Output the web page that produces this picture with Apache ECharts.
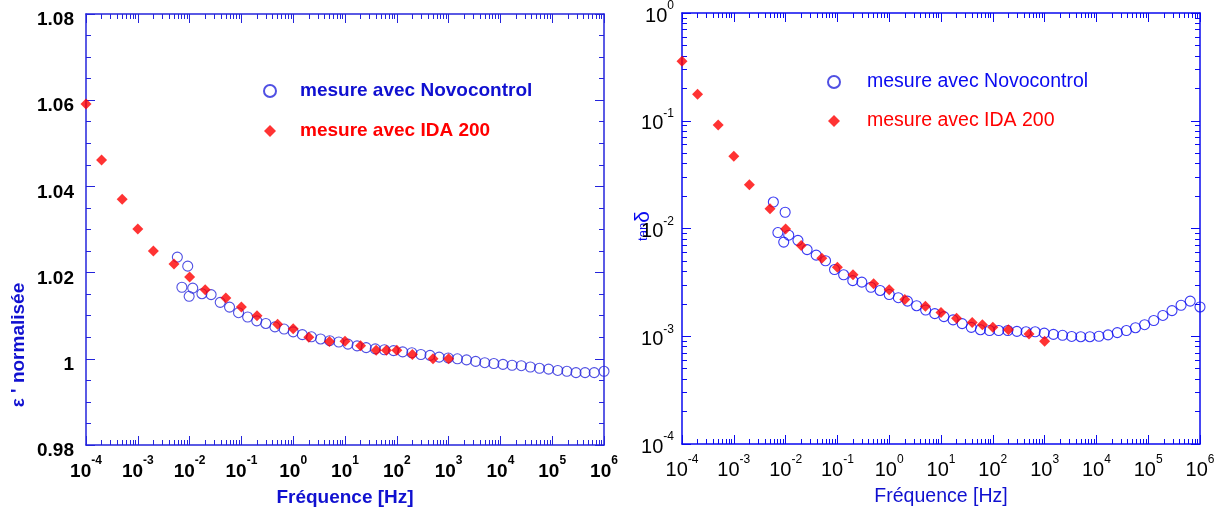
<!DOCTYPE html>
<html><head><meta charset="utf-8">
<script src="https://cdn.jsdelivr.net/npm/echarts@6/dist/echarts.min.js"></script>
<style>html,body{margin:0;padding:0;background:#fff}#c{width:1226px;height:512px}</style>
</head><body><div id="c"></div><script>
// ---- data ----
const idaFreq = [1e-4, 2e-4, 5e-4, 1e-3, 2e-3, 5e-3, 1e-2, 2e-2, 5e-2, 0.1, 0.2, 0.5, 1, 2, 5, 10, 20, 40, 63, 100, 200, 500, 1000];
const idaEps = [1.0591, 1.0461, 1.0370, 1.0301, 1.0250, 1.0220, 1.0190, 1.0160, 1.0141, 1.0120, 1.0100, 1.0080, 1.0070, 1.0050, 1.0040, 1.0041, 1.0030, 1.0020, 1.0020, 1.0020, 1.0010, 1.0000, 1.0000];
const idaTan = [0.357, 0.176, 0.0912, 0.0469, 0.0255, 0.01527, 0.00989, 0.00697, 0.0053, 0.00436, 0.00373, 0.00307, 0.00270, 0.00219, 0.00190, 0.00166, 0.00147, 0.00134, 0.00128, 0.00121, 0.00115, 0.00105, 0.000898];
const novoFreq = [0.0058, 0.0071, 0.0092, 0.0098, 0.0115,
  0.0173, 0.026, 0.039, 0.059, 0.088, 0.132, 0.198, 0.296, 0.444, 0.667,
  1, 1.5, 2.25, 3.38, 5.06, 7.59, 11.4, 17.1, 25.6, 38.4, 57.7, 86.5, 130, 195, 292, 438, 657, 985,
  1480, 2220, 3330, 4990, 7480, 11200, 16800, 25300, 37900, 56800, 85200,
  128000, 192000, 288000, 431000, 647000, 1000000];
const novoEps = [1.0236, 1.0166, 1.0215, 1.0145, 1.0164,
  1.0151, 1.0149, 1.0131, 1.0120, 1.0107, 1.0097, 1.0088, 1.0082, 1.0074, 1.0069,
  1.00625, 1.0056, 1.0051, 1.0046, 1.0042, 1.0039, 1.0034, 1.0030, 1.0026, 1.0023, 1.0021, 1.0019, 1.0016, 1.0014, 1.0010, 1.0008, 1.0004, 1.0002,
  1.0000, 0.99975, 0.9994, 0.9991, 0.9989, 0.9987, 0.9985, 0.9984, 0.9981, 0.9978, 0.9976,
  0.9973, 0.9971, 0.9968, 0.9968, 0.9968, 0.9971];
const novoTan = [0.0176, 0.00917, 0.00748, 0.01415, 0.00867,
  0.00776, 0.00637, 0.00566, 0.00502, 0.00416, 0.00372, 0.00328, 0.00318, 0.00285, 0.00266,
  0.00244, 0.00228, 0.00212, 0.00192, 0.00175, 0.00162, 0.00152, 0.00142, 0.00131, 0.00121, 0.00115, 0.00113, 0.00113, 0.00113, 0.00111, 0.0011, 0.0011, 0.00107,
  0.00104, 0.00102, 0.000996, 0.00099, 0.00099, 0.001, 0.00103, 0.00108, 0.00113, 0.0012,
  0.00128, 0.0014, 0.00156, 0.00173, 0.00194, 0.00212, 0.00187];
const seriesNames = ['mesure avec Novocontrol', 'mesure avec IDA 200'];
const xDecadeExponents = [-4, -3, -2, -1, 0, 1, 2, 3, 4, 5, 6];
const tanDecadeExponents = [-4, -3, -2, -1, 0];
const epsTickLabels = ['0.98', '1', '1.02', '1.04', '1.06', '1.08'];
const xTitle = 'Fréquence [Hz]';
const epsTitle = "ε ' normalisée";

// ---- styling ----
const FONT = '"Liberation Sans", Arial, sans-serif';
const BLUE_L = '#2424dc';
const BLUE_R = '#0a0af0';
const BLUE_TXT = '#1010d0';
const RED = '#ff0000';

function minorValues(exps) {
  const out = [];
  for (let i = 0; i < exps.length - 1; i++) {
    for (let m = 2; m <= 9; m++) out.push(Number((m * Math.pow(10, exps[i])).toPrecision(3)));
  }
  return out;
}
const xMinor = minorValues(xDecadeExponents);
const tanMinor = minorValues(tanDecadeExponents);

function supFmt(v) {
  const e = Math.round(Math.log10(v));
  return '{b|10}{s|' + e + '}';
}
function supRich(bold) {
  const w = bold ? 'bold' : 'normal';
  return {
    b: { fontSize: bold ? 19 : 20, fontWeight: w, fontFamily: FONT, color: '#000', lineHeight: 26, verticalAlign: 'bottom' },
    s: { fontSize: 12, fontWeight: w, fontFamily: FONT, color: '#000', lineHeight: 14, verticalAlign: 'top' }
  };
}

function logX(grid, pos, major, color, ext) {
  const ax = {
    type: 'log', gridIndex: grid, position: pos, min: ext[0], max: ext[1], splitNumber: 10,
    splitLine: { show: false },
    axisLine: { show: major, onZero: false, lineStyle: { color: color, width: 1.5 } },
    axisTick: { show: true, inside: true, length: major ? 9 : 5, lineStyle: { color: color, width: 1 } },
    axisLabel: { show: false }
  };
  if (!major) ax.axisTick.customValues = xMinor;
  return ax;
}

const xAxes = [];
const yAxes = [];
[['bottom', true], ['bottom', false], ['top', true], ['top', false]].forEach(function (p) {
  xAxes.push(logX(0, p[0], p[1], BLUE_L, [1e-4, 1e6]));
});
[['bottom', true], ['bottom', false], ['top', true], ['top', false]].forEach(function (p) {
  xAxes.push(logX(1, p[0], p[1], BLUE_R, [1e-4, 1e6]));
});
xAxes[0].axisLabel = { show: true, formatter: supFmt, rich: supRich(true), margin: 10 };
xAxes[0].name = xTitle; xAxes[0].nameLocation = 'middle'; xAxes[0].nameGap = 43;
xAxes[0].nameTextStyle = { fontFamily: FONT, fontSize: 19, fontWeight: 'bold', color: BLUE_TXT };
xAxes[4].axisLabel = { show: true, formatter: supFmt, rich: supRich(false), margin: 10 };
xAxes[4].name = xTitle; xAxes[4].nameLocation = 'middle'; xAxes[4].nameGap = 43;
xAxes[4].nameTextStyle = { fontFamily: FONT, fontSize: 19.5, color: BLUE_TXT };

['left', 'right'].forEach(function (pos, i) {
  yAxes.push({
    type: 'value', gridIndex: 0, position: pos, min: 0.98, max: 1.08, interval: 0.02,
    splitLine: { show: false },
    axisLine: { show: true, lineStyle: { color: BLUE_L, width: 1.5 } },
    axisTick: { show: true, inside: true, length: 9, lineStyle: { color: BLUE_L } },
    minorTick: { show: true, splitNumber: 4, length: 5, lineStyle: { color: BLUE_L } },
    axisLabel: i === 0 ? {
      show: true, margin: 12,
      formatter: function (v) { return '{v|' + epsTickLabels[Math.round((v - 0.98) / 0.02)] + '}'; },
      rich: { v: { fontFamily: FONT, fontSize: 19, fontWeight: 'bold', color: '#000', padding: [12, 0, 0, 0] } }
    } : { show: false }
  });
});
[['left', true], ['left', false], ['right', true], ['right', false]].forEach(function (p, i) {
  const ax = {
    type: 'log', gridIndex: 1, position: p[0], min: 1e-4, max: 1, splitNumber: 4,
    splitLine: { show: false },
    axisLine: { show: p[1], lineStyle: { color: BLUE_R, width: 1.5 } },
    axisTick: { show: true, inside: true, length: p[1] ? 9 : 5, lineStyle: { color: BLUE_R } },
    axisLabel: { show: false }
  };
  if (!p[1]) ax.axisTick.customValues = tanMinor;
  if (i === 0) ax.axisLabel = { show: true, formatter: supFmt, rich: supRich(false), margin: 8 };
  yAxes.push(ax);
});

const novoStyle = (c) => ({ color: 'rgba(255,255,255,0)', borderColor: c, borderWidth: 1.1 });
const option = {
  backgroundColor: '#fff',
  animation: false,
  grid: [
    { left: 86, top: 14, width: 518, height: 435 },
    { left: 682, top: 11, width: 518, height: 438 }
  ],
  xAxis: xAxes,
  yAxis: yAxes,
  legend: [
    {
      orient: 'vertical', left: 263, top: 81, padding: 0, itemWidth: 12, itemHeight: 12, itemGap: 20,
      data: [
        { name: seriesNames[0], textStyle: { color: BLUE_TXT } },
        { name: seriesNames[1], textStyle: { color: RED } }
      ],
      textStyle: { fontFamily: FONT, fontSize: 19, fontWeight: 'bold', lineHeight: 20, padding: [0, 0, 0, 19] }
    },
    {
      orient: 'vertical', left: 827, top: 72, padding: 0, itemWidth: 12, itemHeight: 12, itemGap: 19,
      data: [
        { name: seriesNames[0], textStyle: { color: BLUE_R } },
        { name: seriesNames[1], textStyle: { color: RED } }
      ],
      textStyle: { fontFamily: FONT, fontSize: 19.5, lineHeight: 20, padding: [0, 0, 0, 22] }
    }
  ],
  graphic: [
    { type: 'text', x: 19, y: 345, rotation: Math.PI / 2,
      style: { text: epsTitle, fill: BLUE_TXT, font: 'bold 19px ' + FONT, align: 'center', verticalAlign: 'middle' } },
    { type: 'text', x: 643, y: 226, rotation: Math.PI / 2,
      style: { text: '{a|tan}{b|δ}', align: 'center', verticalAlign: 'middle',
        rich: { a: { fontSize: 13, fontFamily: FONT, fill: BLUE_R }, b: { fontSize: 21, fontFamily: FONT, fill: BLUE_R } } } }
  ],
  series: [
    { name: seriesNames[0], type: 'scatter', xAxisIndex: 0, yAxisIndex: 0, symbol: 'circle', symbolSize: 10,
      itemStyle: novoStyle(BLUE_L), data: novoFreq.map((f, i) => [f, novoEps[i]]) },
    { name: seriesNames[1], type: 'scatter', xAxisIndex: 0, yAxisIndex: 0, symbol: 'diamond', symbolSize: 11,
      itemStyle: { color: RED }, data: idaFreq.map((f, i) => [f, idaEps[i]]) },
    { name: seriesNames[0], type: 'scatter', xAxisIndex: 4, yAxisIndex: 2, symbol: 'circle', symbolSize: 10,
      itemStyle: novoStyle(BLUE_R), data: novoFreq.map((f, i) => [f, novoTan[i]]) },
    { name: seriesNames[1], type: 'scatter', xAxisIndex: 4, yAxisIndex: 2, symbol: 'diamond', symbolSize: 11,
      itemStyle: { color: RED }, data: idaFreq.map((f, i) => [f, idaTan[i]]) }
  ]
};
const chart = echarts.init(document.getElementById('c'), null, { renderer: 'canvas' });
chart.setOption(option);
</script></body></html>
